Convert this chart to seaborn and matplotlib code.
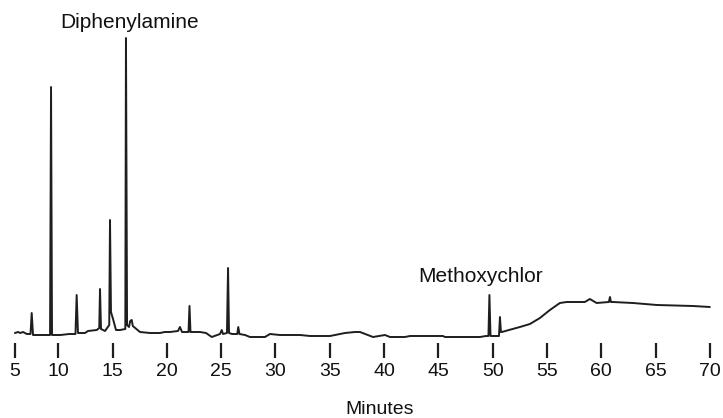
import matplotlib
matplotlib.use("Agg")
import matplotlib.pyplot as plt
import seaborn as sns
import pandas as pd

# Chromatogram trace (minutes, detector signal in arbitrary units)
time_min = [6.0, 6.3, 6.5, 6.75, 7.1, 7.44, 7.55, 7.67, 8.3, 9.24, 9.33, 9.42,
            10.2, 11.0, 11.58, 11.69, 11.81, 12.46, 12.73, 13.54, 13.77, 13.84, 13.93,
            14.3, 14.69, 14.76, 14.85, 15.04, 15.31, 15.68, 16.17, 16.23, 16.33, 16.51,
            16.62, 16.76, 16.86, 16.97, 17.52, 18.44, 19.36, 19.8, 20.28, 21.02, 21.2,
            21.39, 21.99, 22.08, 22.17, 23.05, 23.6, 24.13, 24.89, 25.05, 25.17, 25.53,
            25.63, 25.72, 26.0, 26.48, 26.57, 26.68, 27.19, 27.65, 29.03, 29.49, 30.4,
            31.33, 32.26, 33.18, 35.02, 36.4, 37.32, 37.78, 38.98, 40.08, 40.54, 41.92,
            42.38, 45.42, 45.6, 48.83, 49.38, 49.61, 49.7, 49.8, 50.58, 50.67, 50.76,
            50.85, 51.5, 52.51, 53.43, 54.35, 55.27, 56.19, 56.81, 58.49, 58.95, 59.57,
            60.7, 60.8, 60.89, 61.07, 62.92, 65.12, 68.44, 70.0]
signal = [4, 5, 4, 5, 3, 3, 24, 2, 2, 2, 250, 2,
          2, 3, 3, 42, 4, 4, 6, 7, 9, 48, 8,
          6, 12, 117, 25, 18, 7, 7, 8, 299, 12, 10,
          16, 17, 11, 10, 5, 4, 4, 5, 5, 6, 10,
          5, 5, 31, 5, 5, 4, 0, 3, 7, 3, 4,
          69, 4, 3, 3, 10, 3, 2, 0, 0, 3, 2,
          2, 2, 1, 1, 4, 5, 5, 0, 2, 0, 0,
          1, 1, 0, 0, 1, 1, 42, 1, 1, 20, 5,
          5, 7, 10, 13, 19, 27, 34, 35, 35, 38, 34,
          35, 40, 35, 35, 34, 32, 31, 30]

# Axis ticks as printed on the figure
tick_positions = [6, 10, 15, 20, 25, 30, 35, 40, 45, 50, 55, 60, 65, 70]
tick_labels = ["5", "10", "15", "20", "25", "30", "35", "40", "45", "50", "55", "60", "65", "70"]

# Peak labels
peak_names = ["Diphenylamine", "Methoxychlor"]
peak_label_x = [16.56, 48.88]
peak_label_y = [309, 55]

sns.set_theme(style="white")
plt.rcParams["font.family"] = ["Liberation Sans", "DejaVu Sans"]

df = pd.DataFrame({"Minutes": time_min, "Signal": signal})

fig = plt.figure(figsize=(7.23, 4.18), dpi=100)
ax = fig.add_axes([0, 75 / 418, 1, 343 / 418])
sns.lineplot(data=df, x="Minutes", y="Signal", ax=ax, color="#1e1e1e",
             linewidth=1.4, sort=False)

ax.set_xlim(4.63, 71.21)
ax.set_ylim(-6, 337)
for sp in ax.spines.values():
    sp.set_visible(False)
ax.set_yticks([])
ax.set_ylabel("")
ax.set_xticks(tick_positions)
ax.set_xticklabels(tick_labels)
ax.tick_params(axis="x", bottom=True, direction="out", length=10.5, width=1.6,
               color="#1e1e1e", labelsize=14, pad=4, labelcolor="#111111")

ax.set_xlabel("Minutes", fontsize=14, color="#111111")
ax.xaxis.label.set_va("baseline")
ax.xaxis.set_label_coords(380 / 723, (343 - 413.5) / 343)

for name, x, y in zip(peak_names, peak_label_x, peak_label_y):
    ax.text(x, y, name, ha="center", va="baseline", fontsize=15, color="#111111")

fig.savefig("out.png", dpi=100)
